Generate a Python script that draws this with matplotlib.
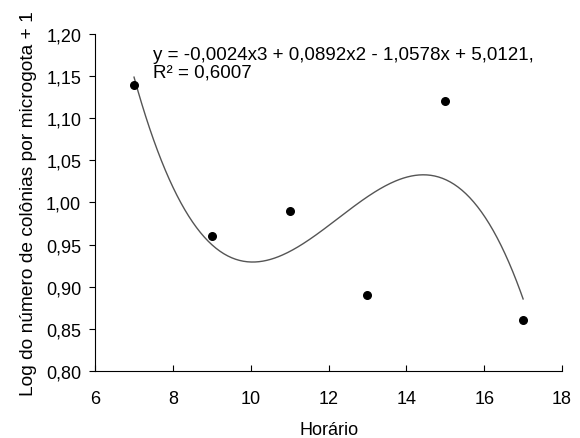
import numpy as np
import matplotlib
matplotlib.use("Agg")
import matplotlib.pyplot as plt
from matplotlib.ticker import FuncFormatter

plt.rcParams['font.family'] = ['Liberation Sans', 'DejaVu Sans']

# Colony counts (log + 1) by sampling hour
horario = [7, 9, 11, 13, 15, 17]
log_colonias = [1.14, 0.96, 0.99, 0.89, 1.12, 0.86]

x_ticks = [6, 8, 10, 12, 14, 16, 18]
y_ticks = [0.80, 0.85, 0.90, 0.95, 1.00, 1.05, 1.10, 1.15, 1.20]

equacao = "y = -0,0024x3 + 0,0892x2 - 1,0578x + 5,0121,\nR² = 0,6007"

fig = plt.figure(figsize=(5.8, 4.39), dpi=100)
ax = fig.add_axes([0.164, 0.153, 0.805, 0.767])

# cubic trend line fitted to the points
coef = np.polyfit(horario, log_colonias, 3)
xs = np.linspace(min(horario), max(horario), 300)
ax.plot(xs, np.polyval(coef, xs), color='#555555', linewidth=1.0)

ax.scatter(horario, log_colonias, s=30, color='black', zorder=3)

ax.set_xlim(6, 18)
ax.set_ylim(0.80, 1.20)
ax.set_xticks(x_ticks)
ax.set_yticks(y_ticks)
ax.yaxis.set_major_formatter(FuncFormatter(lambda v, p: f"{v:.2f}".replace('.', ',')))

for side in ['top', 'right']:
    ax.spines[side].set_visible(False)
for side in ['left', 'bottom']:
    ax.spines[side].set_linewidth(0.8)

ax.tick_params(axis='x', direction='in', length=4, labelsize=13, pad=14)
ax.tick_params(axis='y', direction='out', length=4, labelsize=13, pad=6)

ax.set_xlabel("Horário", fontsize=13, labelpad=10)
ax.set_ylabel("Log do número de colônias por microgota + 1", fontsize=13.8)
ax.yaxis.set_label_coords(-0.125, 0.5)

ax.text(7.49, 1.1656, equacao, fontsize=13.5, va='center', ha='left', linespacing=1.05)

fig.savefig("out.png", dpi=100)
